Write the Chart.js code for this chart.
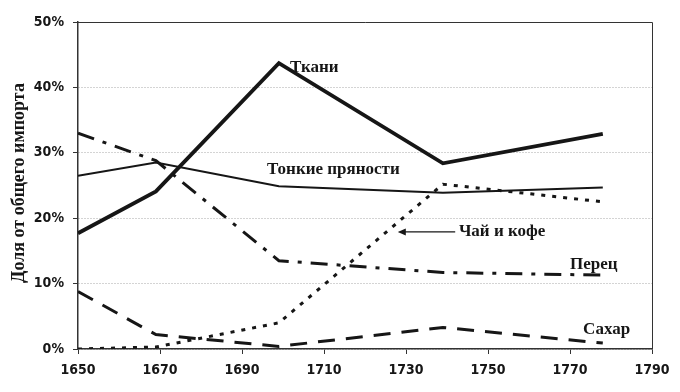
<!DOCTYPE html>
<html lang="ru">
<head>
    <meta charset="UTF-8">
    <title>Доля от общего импорта</title>
    <script src="https://cdn.jsdelivr.net/npm/chart.js"></script>
    <style>
        html, body { margin: 0; padding: 0; background: #fff; }
        #wrap { width: 680px; height: 392px; position: relative; }
    </style>
</head>
<body>
    <div id="wrap"><canvas id="chart"></canvas></div>
    <script>
        // данные
        const years = [1650, 1669, 1699, 1739, 1778];
        const tkani = [17.7, 24.1, 43.7, 28.4, 32.9];
        const spices = [26.5, 28.5, 24.9, 23.9, 24.7];
        const teaCoffee = [0, 0.3, 4.0, 25.2, 22.5];
        const pepper = [33.0, 28.8, 13.5, 11.7, 11.3];
        const sugar = [8.8, 2.2, 0.4, 3.3, 0.9];
        const xTicks = [1650, 1670, 1690, 1710, 1730, 1750, 1770, 1790];
        const yTicks = [0, 10, 20, 30, 40, 50];

        // подписи серий: [текст, год, процент]
        const labels = [
            ['Ткани', 1701.7, 43.1],
            ['Тонкие пряности', 1696.1, 27.4],
            ['Чай и кофе', 1742.9, 17.9],
            ['Перец', 1770, 12.9],
            ['Сахар', 1773.2, 2.9]
        ];

        const ink = '#161616';
        const serif = '"Liberation Serif", "DejaVu Serif", serif';
        const narrow = '"Liberation Sans Narrow", "DejaVu Sans Condensed", sans-serif';

        function pts(vals) {
            return years.map((y, i) => ({ x: y, y: vals[i] }));
        }

        const extras = {
            id: 'extras',
            afterDraw(chart) {
                const ctx = chart.ctx;
                const a = chart.chartArea;
                const xs = chart.scales.x, ys = chart.scales.y;
                ctx.save();
                // рамка сверху и справа
                ctx.strokeStyle = '#333';
                ctx.lineWidth = 1;
                ctx.beginPath();
                ctx.moveTo(a.left, a.top + 0.5);
                ctx.lineTo(a.right + 0.5, a.top + 0.5);
                ctx.lineTo(a.right + 0.5, a.bottom);
                ctx.stroke();

                // подписи линий
                ctx.fillStyle = ink;
                ctx.font = 'bold 17px ' + serif;
                ctx.textBaseline = 'middle';
                ctx.textAlign = 'left';
                labels.forEach(l => {
                    ctx.fillText(l[0], xs.getPixelForValue(l[1]), ys.getPixelForValue(l[2]));
                });

                // стрелка к "Чай и кофе"
                const y0 = ys.getPixelForValue(17.9);
                const x1 = xs.getPixelForValue(1742), x2 = xs.getPixelForValue(1728);
                ctx.strokeStyle = ink;
                ctx.lineWidth = 1.2;
                ctx.beginPath();
                ctx.moveTo(x1, y0);
                ctx.lineTo(x2 + 2, y0);
                ctx.stroke();
                ctx.beginPath();
                ctx.moveTo(x2, y0);
                ctx.lineTo(x2 + 8, y0 - 3.5);
                ctx.lineTo(x2 + 8, y0 + 3.5);
                ctx.closePath();
                ctx.fill();

                // подпись оси Y
                ctx.translate(19, 183);
                ctx.rotate(-Math.PI / 2);
                ctx.textAlign = 'center';
                ctx.font = 'bold 18px ' + serif;
                ctx.fillText('Доля от общего импорта', 0, 0);
                ctx.restore();
            }
        };

        const ctx = document.getElementById('chart').getContext('2d');
        new Chart(ctx, {
            type: 'line',
            data: {
                datasets: [
                    { label: 'Ткани', data: pts(tkani), borderWidth: 3.8 },
                    { label: 'Тонкие пряности', data: pts(spices), borderWidth: 2 },
                    { label: 'Чай и кофе', data: pts(teaCoffee), borderWidth: 3, borderDash: [4, 7] },
                    { label: 'Перец', data: pts(pepper), borderWidth: 3, borderDash: [17, 9, 4, 9] },
                    { label: 'Сахар', data: pts(sugar), borderWidth: 3, borderDash: [17, 11] }
                ].map(d => Object.assign(d, {
                    borderColor: ink, backgroundColor: ink, pointRadius: 0,
                    tension: 0, fill: false, borderCapStyle: 'butt'
                }))
            },
            options: {
                responsive: true,
                maintainAspectRatio: false,
                animation: false,
                layout: { padding: { top: 22, right: 28, left: 0, bottom: 0 } },
                plugins: { legend: { display: false }, tooltip: { enabled: false } },
                scales: {
                    x: {
                        type: 'linear',
                        min: 1650, max: 1790,
                        afterBuildTicks: s => { s.ticks = xTicks.map(v => ({ value: v })); },
                        afterFit: s => { s.height = 43; },
                        grid: { drawOnChartArea: false, drawTicks: true, tickLength: 5, color: '#333' },
                        border: { color: '#333', width: 1.5 },
                        ticks: { color: ink, padding: 8, maxRotation: 0, callback: v => String(v),
                                 font: { family: narrow, size: 14, weight: 'bold' } }
                    },
                    y: {
                        min: 0, max: 50,
                        afterBuildTicks: s => { s.ticks = yTicks.map(v => ({ value: v })); },
                        afterFit: s => { s.width = 78; },
                        grid: { color: '#a8a8a8', lineWidth: 1, tickLength: 5, tickColor: '#333', tickBorderDash: [] },
                        border: { color: '#333', width: 1.5, dash: [1, 2] },
                        ticks: { color: ink, padding: 9, callback: v => v + '%',
                                 font: { family: narrow, size: 14, weight: 'bold' } }
                    }
                }
            },
            plugins: [extras]
        });
    </script>
</body>
</html>
